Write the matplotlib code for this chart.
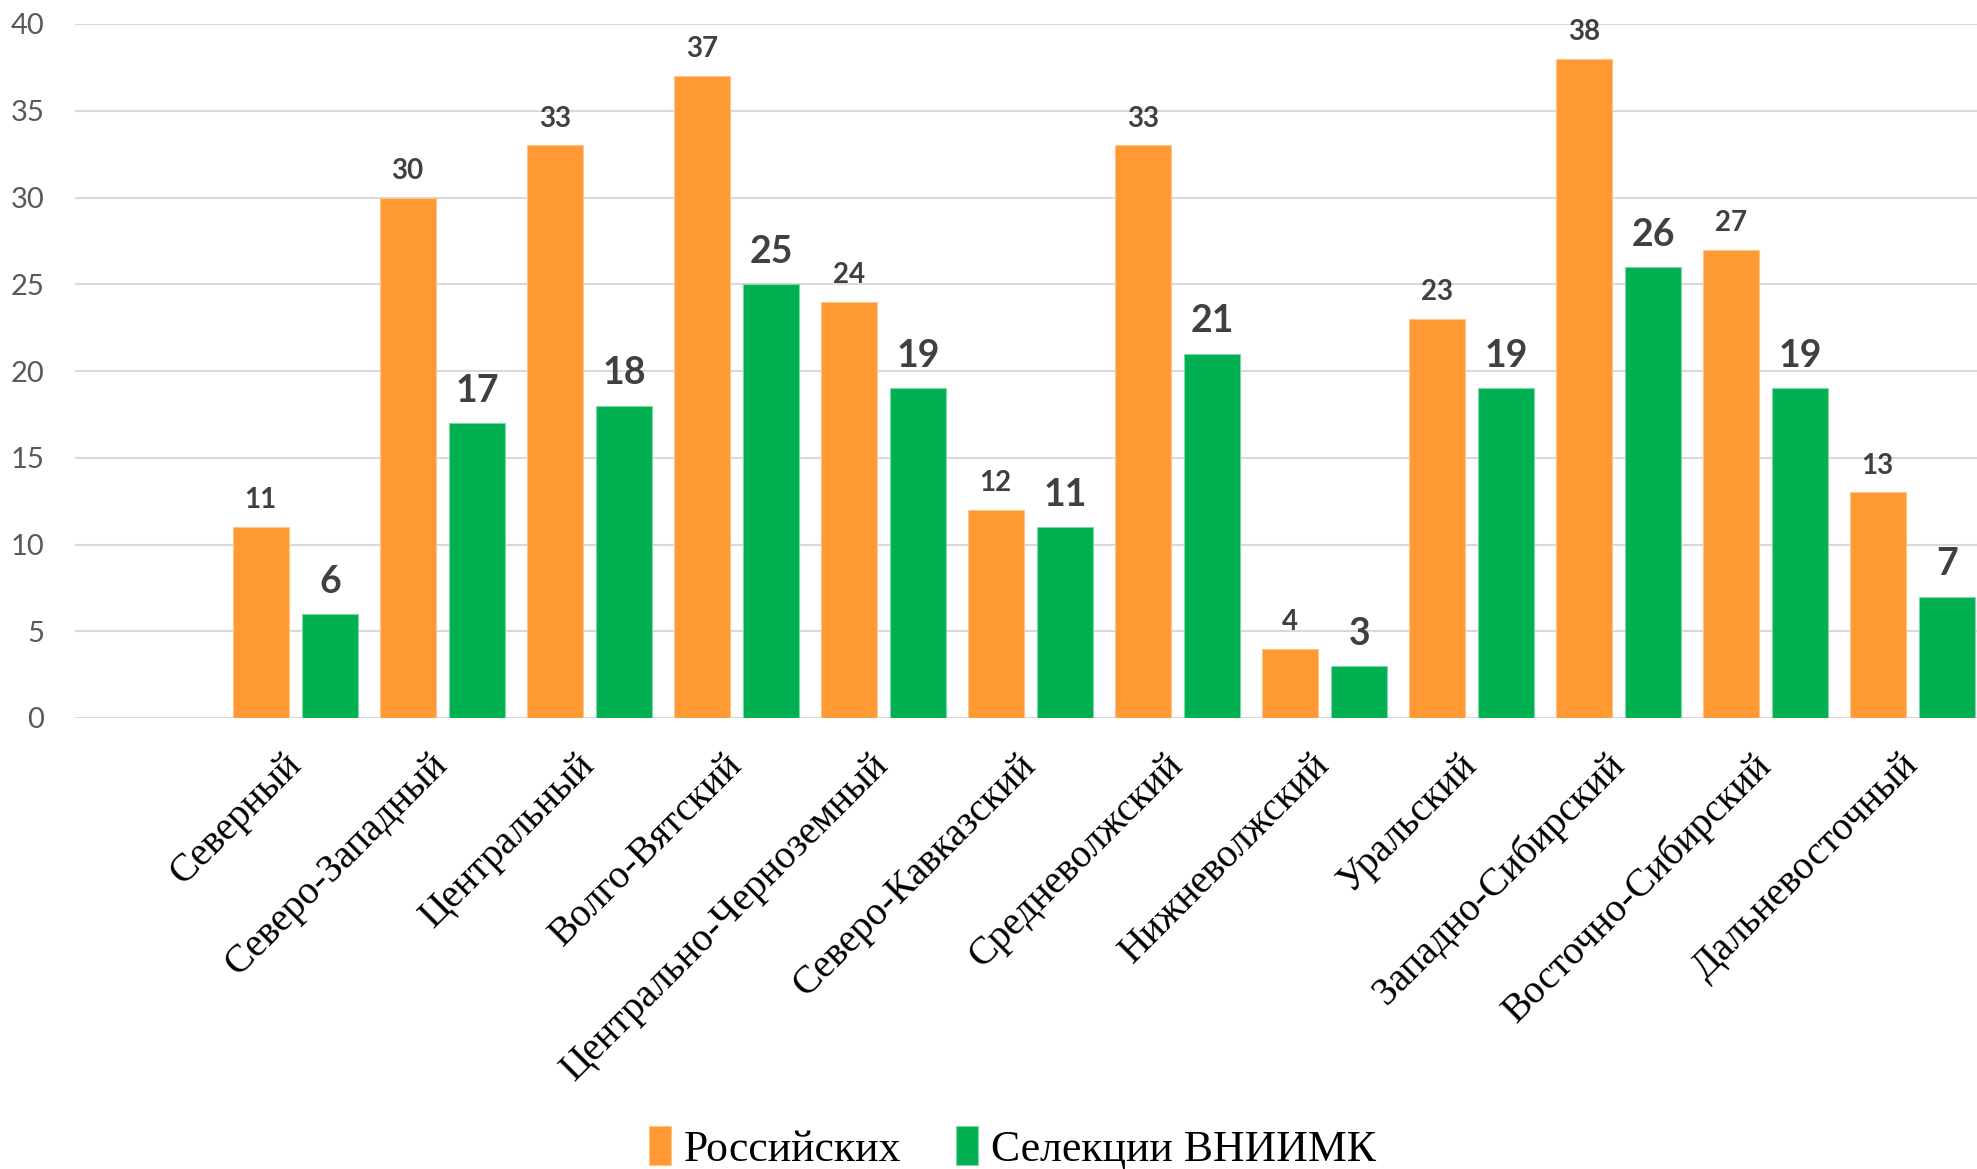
import numpy as np
import matplotlib.pyplot as plt

regions = ['', 'Северный', 'Северо-Западный', 'Центральный', 'Волго-Вятский',
           'Центрально-Черноземный', 'Северо-Кавказский', 'Средневолжский',
           'Нижневолжский', 'Уральский', 'Западно-Сибирский',
           'Восточно-Сибирский', 'Дальневосточный']
russian = [None, 11, 30, 33, 37, 24, 12, 33, 4, 23, 38, 27, 13]
vniimk = [None, 6, 17, 18, 25, 19, 11, 21, 3, 19, 26, 19, 7]

c_orange = '#FF9933'
c_green = '#00B050'

fig = plt.figure(figsize=(19.77, 11.69), dpi=100)
ax = fig.add_axes([75/1977, 1 - 718/1169, 1911/1977, 694/1169])

x = np.arange(len(regions))
w = 0.378
off = 0.2365
r_vals = [np.nan if v is None else v for v in russian]
g_vals = [np.nan if v is None else v for v in vniimk]
ax.bar(x - off, r_vals, w, color=c_orange, edgecolor='#FFC48A', linewidth=0.8, zorder=3,
       label='Российских')
ax.bar(x + off, g_vals, w, color=c_green, edgecolor='#7FD7A7', linewidth=0.8, zorder=3,
       label='Селекции ВНИИМК')

for i in range(len(regions)):
    if russian[i] is not None:
        ax.annotate(str(russian[i]), (x[i] - off, russian[i]), xytext=(0, 10),
                    textcoords='offset points', ha='center', va='bottom',
                    fontsize=20, fontweight='bold', color='#404040', family='Lato')
    if vniimk[i] is not None:
        ax.annotate(str(vniimk[i]), (x[i] + off, vniimk[i]), xytext=(0, 11),
                    textcoords='offset points', ha='center', va='bottom',
                    fontsize=27, fontweight='bold', color='#404040', family='Lato')

ax.set_xlim(-0.5, len(regions) - 0.5)
ax.set_ylim(0, 40)
ax.set_yticks(range(0, 41, 5))
ax.tick_params(axis='y', labelsize=21, labelcolor='#595959', length=0, pad=22)
for lab in ax.get_yticklabels():
    lab.set_family('Lato')
ax.set_xticks(x)
ax.set_xticklabels(regions, rotation=45, ha='right', va='center', rotation_mode='anchor',
                   fontsize=28.5, family='Liberation Serif')
ax.tick_params(axis='x', length=0, pad=30)
ax.grid(axis='y', color='#D9D9D9', linewidth=1.5, zorder=0)
for s in ax.spines.values():
    s.set_visible(False)

fig.legend(loc='center', bbox_to_anchor=(0.512, 0.018), ncol=2, frameon=False,
           prop={'family': 'Liberation Serif', 'size': 31.5},
           handlelength=0.5, handleheight=1.0, handletextpad=0.3, columnspacing=1.25)

fig.savefig('out.png', dpi=100)
